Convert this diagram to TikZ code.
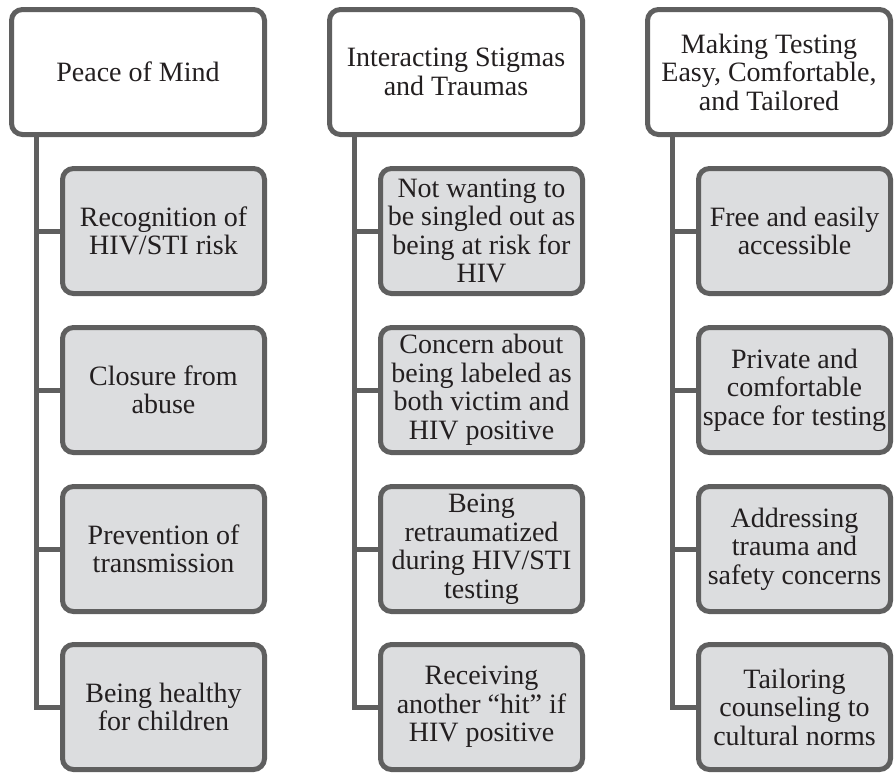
\documentclass[tikz,border=0pt]{standalone}
\usepackage{fontspec}
\setmainfont{Liberation Serif}
\definecolor{edge}{HTML}{5F5F5F}
\definecolor{boxfill}{HTML}{DCDDDF}
\definecolor{ink}{HTML}{231F20}
\begin{document}
\begin{tikzpicture}[x=1pt,y=1pt,
  base/.style={draw=edge, line width=5pt, rounded corners=11pt, align=center,
    text=ink, font=\fontsize{28}{28.5}\selectfont, inner sep=1pt},
  headbox/.style={base, fill=white, minimum height=125pt},
  itembox/.style={base, fill=boxfill, minimum height=125pt},
  conn/.style={draw=edge, line width=5pt}]
\useasboundingbox (0,0) rectangle (894,-772);
% column 1
\node[headbox, minimum width=253pt] (t1) at (138,-72) {Peace of Mind};
\node[itembox, minimum width=202pt] (a1) at (163.5,-231) {Recognition of\\HIV/STI risk};
\node[itembox, minimum width=202pt] (a2) at (163.5,-390) {Closure from\\abuse};
\node[itembox, minimum width=202pt] (a3) at (163.5,-549) {Prevention of\\transmission};
\node[itembox, minimum width=202pt] (a4) at (163.5,-707) {Being healthy\\for children};
% column 2
\node[headbox, minimum width=253pt] (t2) at (456,-72) {Interacting Stigmas\\and Traumas};
\node[itembox, minimum width=202pt] (b1) at (481.5,-231) {Not wanting to\\be singled out as\\being at risk for\\HIV};
\node[itembox, minimum width=202pt] (b2) at (481.5,-390) {Concern about\\being labeled as\\both victim and\\HIV positive};
\node[itembox, minimum width=202pt] (b3) at (481.5,-549) {Being\\retraumatized\\during HIV/STI\\testing};
\node[itembox, minimum width=202pt] (b4) at (481.5,-707) {Receiving\\another ``hit'' if\\HIV positive};
% column 3
\node[headbox, minimum width=243pt] (t3) at (769,-72) {Making Testing\\Easy, Comfortable,\\and Tailored};
\node[itembox, minimum width=192pt] (c1) at (794.5,-231) {Free and easily\\accessible};
\node[itembox, minimum width=192pt] (c2) at (794.5,-390) {Private and\\comfortable\\space for testing};
\node[itembox, minimum width=192pt] (c3) at (794.5,-549) {Addressing\\trauma and\\safety concerns};
\node[itembox, minimum width=192pt] (c4) at (794.5,-707) {Tailoring\\counseling to\\cultural norms};
% connector start points (bottom edges of the heading boxes)
\coordinate (s1) at (36,-137);
\coordinate (s2) at (354,-137);
\coordinate (s3) at (672,-137);
\draw[conn] (s1) |- (a4.west);
\draw[conn] (s1 |- a1.west) -- (a1.west);
\draw[conn] (s1 |- a2.west) -- (a2.west);
\draw[conn] (s1 |- a3.west) -- (a3.west);
\draw[conn] (s2) |- (b4.west);
\draw[conn] (s2 |- b1.west) -- (b1.west);
\draw[conn] (s2 |- b2.west) -- (b2.west);
\draw[conn] (s2 |- b3.west) -- (b3.west);
\draw[conn] (s3) |- (c4.west);
\draw[conn] (s3 |- c1.west) -- (c1.west);
\draw[conn] (s3 |- c2.west) -- (c2.west);
\draw[conn] (s3 |- c3.west) -- (c3.west);
\end{tikzpicture}
\end{document}
